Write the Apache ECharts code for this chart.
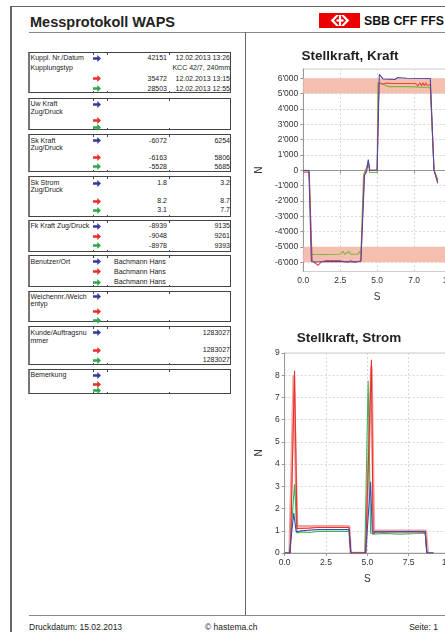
<!DOCTYPE html>
<html><head><meta charset="utf-8">
<script src="https://cdn.jsdelivr.net/npm/echarts@6/dist/echarts.min.js"></script>
<style>
html,body{margin:0;padding:0;width:445px;height:632px;overflow:hidden;background:#fff;font-family:'Liberation Sans',Arial,sans-serif;}
.l{position:absolute;}
.t{position:absolute;font-size:7px;line-height:8px;color:#1a1a1a;white-space:nowrap;}
.blk{position:absolute;left:28px;width:203px;border:1px solid #444;border-left:2px solid #777;box-sizing:border-box;}
#c{position:absolute;left:246px;top:0;width:234px;height:632px;}
</style></head>
<body>
<div id="page"></div>
<div id="c"></div>
<script>
// ---------- document texts ----------
const headerTitle = 'Messprotokoll WAPS';
const brandText = 'SBB CFF FFS';
const footerTexts = ['Druckdatum: 15.02.2013', '© hastema.ch', 'Seite: 1'];

// table blocks: label lines, arrow rows with values
const tableLabels = [
  ['Kuppl. Nr./Datum', 'Kupplungstyp'],
  ['Uw Kraft', 'Zug/Druck'],
  ['Sk Kraft', 'Zug/Druck'],
  ['Sk Strom', 'Zug/Druck'],
  ['Fk Kraft Zug/Druck'],
  ['Benutzer/Ort'],
  ['Weichennr./Weich', 'entyp'],
  ['Kunde/Auftragsnu', 'mmer'],
  ['Bemerkung']
];
const kupplNr = ['42151', '35472', '28503'];
const kupplDatum = ['12.02.2013 13:26', '12.02.2013 13:15', '12.02.2013 12:55'];
const kupplTyp = 'KCC 42/7, 240mm';
const skKraftZug = ['-6072', '-6163', '-5528'];
const skKraftDruck = ['6254', '5806', '5685'];
const skStromA = ['1.8', '8.2', '3.1'];
const skStromB = ['3.2', '8.7', '7.7'];
const fkKraftZug = ['-8939', '-9048', '-8978'];
const fkKraftDruck = ['9135', '9261', '9393'];
const benutzer = ['Bachmann Hans', 'Bachmann Hans', 'Bachmann Hans'];
const kunde = ['1283027', '1283027', '1283027'];

// ---------- chart data: [time s, value] ----------
const kraftBlue = [[0,-30],[0.38,-30],[0.55,-5950],[0.8,-5990],[1.5,-5950],[2.5,-5960],[3.5,-5980],[3.9,-5950],[4.15,-300],[4.28,-120],[4.4,700],[4.5,0],[5.0,0],[5.15,6250],[5.4,5950],[6.2,5920],[6.4,6050],[7.0,6000],[8.6,5980],[8.85,0],[9.1,-850]];
const kraftRed = [[0,-130],[0.4,-130],[0.6,-5900],[0.8,-6050],[1.0,-6200],[1.2,-6000],[1.5,-5900],[2.5,-5900],[3.0,-6000],[3.2,-5900],[3.5,-6000],[3.9,-5900],[4.12,-400],[4.3,100],[4.4,500],[4.5,0],[5.0,0],[5.12,5700],[5.4,5600],[5.6,5680],[6.0,5650],[7.6,5650],[7.75,5500],[7.9,5700],[8.0,5500],[8.1,5700],[8.2,5500],[8.3,5700],[8.4,5500],[8.6,5600],[8.85,0],[9.1,-700]];
const kraftGreen = [[0,0],[0.4,0],[0.55,-5500],[1.5,-5500],[2.5,-5480],[2.7,-5280],[2.8,-5480],[3.1,-5300],[3.2,-5480],[3.7,-5480],[3.8,-5300],[3.9,-5450],[4.08,-300],[4.3,200],[4.4,600],[4.5,-150],[5.0,-150],[5.05,5700],[5.3,5650],[5.8,5450],[7.1,5450],[7.2,5380],[8.6,5380],[8.85,0],[9.1,-600]];

const stromRedEnv = [[0.3,0],[0.55,8.0],[0.75,1.2],[1.5,1.2],[3.9,1.2],[4.0,0],[4.9,0],[5.25,8.4],[5.4,1.0],[8.55,1.0],[8.65,0]];
const stromRed = [[0,0],[0.35,0],[0.6,8.2],[0.75,1.1],[1.5,1.12],[2.0,1.15],[3.0,1.15],[3.9,1.15],[4.0,0],[4.9,0],[5.25,8.7],[5.35,0.85],[5.5,0.95],[7.0,0.95],[8.5,0.95],[8.6,0],[9.0,0]];
const stromGreen = [[0,0],[0.3,0],[0.6,3.1],[0.75,0.9],[1.0,0.95],[1.5,0.92],[2.0,0.97],[3.0,0.97],[3.9,0.97],[4.0,0],[4.85,0],[5.05,7.75],[5.2,0.9],[5.4,0.85],[6.0,0.88],[7.0,0.85],[8.0,0.88],[8.5,0.9],[8.6,0],[9.0,0]];
const stromBlue = [[0,0],[0.3,0],[0.55,1.8],[0.7,0.95],[1.0,1.0],[2.0,1.05],[3.0,1.05],[3.9,1.05],[4.0,0],[4.9,0],[5.2,3.2],[5.3,0.95],[6.0,0.95],[7.5,0.97],[8.5,0.95],[8.6,0],[9.0,0]];

// tick labels
const kraftYTicks = [-6000,-5000,-4000,-3000,-2000,-1000,0,1000,2000,3000,4000,5000,6000];
const kraftYLabels = ["-6'000","-5'000","-4'000","-3'000","-2'000","-1'000","0","1'000","2'000","3'000","4'000","5'000","6'000"];
const kraftXTicks = [0, 2.5, 5, 7.5, 10];
const kraftXLabels = ['0.0', '2.5', '5.0', '7.0', '10.0'];
const stromXLabels = ['0.0', '2.5', '5.0', '7.5', '10.0'];
const kraftBands = [[5000, 6000], [-6000, -5000]];

// ---------- build page ----------
const page = document.getElementById('page');
function line(x, y, w, h, c) {
  const d = document.createElement('div'); d.className = 'l';
  d.style.cssText = `left:${x}px;top:${y}px;width:${w}px;height:${h}px;background:${c}`;
  page.appendChild(d);
}
function txt(s, x, y, align, style) {
  const d = document.createElement('div'); d.className = 't'; d.textContent = s;
  d.style.top = (y - 4) + 'px';
  if (align === 'right') { d.style.right = (445 - x) + 'px'; } else { d.style.left = x + 'px'; }
  if (style) d.style.cssText += style;
  page.appendChild(d);
}
const arrowColors = {b: '#3a3a9c', r: '#e53127', g: '#2ea84e'};
function arrow(kind, y) {
  const ns = 'http://www.w3.org/2000/svg';
  const s = document.createElementNS(ns, 'svg');
  s.setAttribute('width', 8); s.setAttribute('height', 7);
  s.style.cssText = `position:absolute;left:92.5px;top:${y - 3.5}px`;
  const p = document.createElementNS(ns, 'path');
  p.setAttribute('d', 'M0 2.3 H4.3 V0 L8 3.5 L4.3 7 V4.7 H0 Z');
  p.setAttribute('fill', arrowColors[kind]);
  s.appendChild(p); page.appendChild(s);
}

// frame
line(10, 6, 440, 1, '#666');
line(10, 6, 1.5, 626, '#666');
line(29, 32, 420, 1, '#888');
line(245, 32, 1, 584, '#666');
line(29, 615, 420, 1, '#888');

// header
txt(headerTitle, 30, 20, 'left', 'font-size:14.5px;line-height:16px;font-weight:bold;top:14px;color:#222');
// logo
(function () {
  const ns = 'http://www.w3.org/2000/svg';
  const s = document.createElementNS(ns, 'svg');
  s.setAttribute('width', 41); s.setAttribute('height', 15);
  s.style.cssText = 'position:absolute;left:319px;top:13px';
  s.innerHTML = '<rect width="41" height="15" fill="#eb0000"/>' +
    '<path d="M22 2 L27 7.5 L22 13 H24.8 L30.3 7.5 L24.8 2 Z M20 2 L15 7.5 L20 13 H17.2 L11.7 7.5 L17.2 2 Z" fill="#fff"/>' +
    '<rect x="17.5" y="6.4" width="7" height="2.2" fill="#fff"/>' +
    '<rect x="19.9" y="2" width="2.2" height="11" fill="#fff"/>';
  page.appendChild(s);
})();
txt(brandText, 364, 21, 'left', 'font-size:12.3px;line-height:14px;font-weight:bold;top:13.5px;color:#111');

// footer
txt(footerTexts[0], 29, 627, 'left', 'font-size:8.5px;line-height:10px;top:622px');
txt(footerTexts[1], 205, 627, 'left', 'font-size:8.5px;line-height:10px;top:622px');
txt(footerTexts[2], 438, 627, 'right', 'font-size:8.5px;line-height:10px;top:622px');

// table blocks geometry
const blockBox = [[52,93],[98,130],[134,172],[176,217],[220,252],[255,287],[291,322],[326,365],[369,394]];
const labelY = [[58.3,68],[104,111.7],[140.7,148.3],[183,190.3],[226],[261.7],[296.7,304.3],[332.7,340.7],[375.3]];
const rowY = [[58.3,78.7,88.7],[104,120,127.7],[140.7,157.7,166.7],[183,201,210],[226,236,245.7],[261.7,271.7,282.3],[296.7,311.7,320],[332.7,350,360],[375.3,384,390.7]];
blockBox.forEach((b, i) => {
  const d = document.createElement('div'); d.className = 'blk';
  d.style.top = b[0] + 'px'; d.style.height = (b[1] - b[0]) + 'px';
  page.appendChild(d);
  [93, 107, 169].forEach(x => { line(x, b[0], 1, 2.5, '#444'); line(x, b[1] - 2.5, 1, 2.5, '#444'); });
  tableLabels[i].forEach((s, k) => txt(s, 30.5, labelY[i][k], 'left'));
  ['b', 'r', 'g'].forEach((a, k) => arrow(a, rowY[i][k]));
});
// values
kupplNr.forEach((v, k) => txt(v, 167, rowY[0][k], 'right'));
kupplDatum.forEach((v, k) => txt(v, 230, rowY[0][k], 'right'));
txt(kupplTyp, 230, 68, 'right');
skKraftZug.forEach((v, k) => txt(v, 167, rowY[2][k], 'right'));
skKraftDruck.forEach((v, k) => txt(v, 230, rowY[2][k], 'right'));
skStromA.forEach((v, k) => txt(v, 167, rowY[3][k], 'right'));
skStromB.forEach((v, k) => txt(v, 230, rowY[3][k], 'right'));
fkKraftZug.forEach((v, k) => txt(v, 167, rowY[4][k], 'right'));
fkKraftDruck.forEach((v, k) => txt(v, 230, rowY[4][k], 'right'));
benutzer.forEach((v, k) => txt(v, 114, rowY[5][k], 'left'));
kunde.forEach((v, k) => txt(v, 230, rowY[7][k], 'right'));

// ---------- charts ----------
const chart = echarts.init(document.getElementById('c'), null, {renderer: 'canvas', width: 234, height: 632});
const fontFam = 'Liberation Sans, Arial, sans-serif';
function xAxisCfg(gi, labels) {
  return {
    gridIndex: gi, type: 'value', min: 0, max: 10, interval: 2.5,
    name: 'S', nameLocation: 'middle', nameGap: 21,
    nameTextStyle: {fontSize: 10, color: '#333', fontFamily: fontFam},
    axisLine: {lineStyle: {color: '#999'}},
    axisTick: {show: true, length: 3, lineStyle: {color: '#999'}},
    splitLine: {show: true, lineStyle: {type: [2, 2], color: '#d8d8d8'}},
    axisLabel: {fontSize: 8.5, color: '#333', margin: 5, fontFamily: fontFam,
      formatter: v => labels[kraftXTicks.indexOf(v)] ?? String(v)}
  };
}
const lineS = (name, data, color, xi, w, z) => ({
  name, type: 'line', data, xAxisIndex: xi, yAxisIndex: xi, showSymbol: false, symbol: 'none',
  lineStyle: {color, width: w || 1.1}, itemStyle: {color}, z: z || 3, silent: true
});
chart.setOption({
  animation: false,
  backgroundColor: 'transparent',
  textStyle: {fontFamily: fontFam},
  graphic: [
    {type: 'text', x: 104, y: 56.5, style: {text: 'Stellkraft, Kraft', fill: '#222', font: 'bold 13.5px Liberation Sans, Arial', textAlign: 'center', textVerticalAlign: 'middle'}},
    {type: 'text', x: 103, y: 338.5, style: {text: 'Stellkraft, Strom', fill: '#222', font: 'bold 13.5px Liberation Sans, Arial', textAlign: 'center', textVerticalAlign: 'middle'}}
  ],
  grid: [
    {left: 56, top: 69, width: 149, height: 202.4, show: true, borderColor: '#ccc', borderWidth: 1},
    {left: 36, top: 353, width: 168, height: 200, show: true, borderColor: '#ccc', borderWidth: 1}
  ],
  xAxis: [xAxisCfg(0, kraftXLabels), xAxisCfg(1, stromXLabels)],
  yAxis: [
    {gridIndex: 0, type: 'value', min: -6600, max: 6600,
      name: 'N', nameLocation: 'middle', nameGap: 35, nameRotate: 90,
      nameTextStyle: {fontSize: 10, color: '#333'},
      axisLine: {show: true, lineStyle: {color: '#999'}},
      axisTick: {show: true, length: 3, lineStyle: {color: '#999'}, customValues: kraftYTicks},
      splitLine: {show: true, lineStyle: {type: [2, 2], color: '#d8d8d8'}},
      axisLabel: {fontSize: 8.5, color: '#333', margin: 5, customValues: kraftYTicks,
        formatter: v => kraftYLabels[kraftYTicks.indexOf(v)]}},
    {gridIndex: 1, type: 'value', min: 0, max: 9, interval: 1,
      name: 'N', nameLocation: 'middle', nameGap: 15, nameRotate: 90,
      nameTextStyle: {fontSize: 10, color: '#333'},
      axisLine: {show: true, lineStyle: {color: '#999'}},
      axisTick: {show: true, length: 3, lineStyle: {color: '#999'}},
      splitLine: {show: true, lineStyle: {type: [2, 2], color: '#d8d8d8'}},
      axisLabel: {fontSize: 8.5, color: '#333', margin: 5}}
  ],
  series: [
    {type: 'line', data: [], xAxisIndex: 0, yAxisIndex: 0, z: 1, silent: true,
      markArea: {silent: true, itemStyle: {color: '#f5bfb0'},
        data: kraftBands.map(b => [{yAxis: b[0]}, {yAxis: b[1]}])}},
    lineS('Kraft grün', kraftGreen, '#7cb842', 0),
    lineS('Kraft rot', kraftRed, '#e8473a', 0),
    lineS('Kraft blau', kraftBlue, '#5048ad', 0),
    lineS('Strom rot Hülle', stromRedEnv, 'rgba(240,130,130,0.75)', 1, 2.5, 2),
    lineS('Strom grün', stromGreen, '#3cb35a', 1),
    lineS('Strom rot', stromRed, '#e8322c', 1),
    lineS('Strom blau', stromBlue, '#3a4db0', 1)
  ]
});
</script>
</body></html>
